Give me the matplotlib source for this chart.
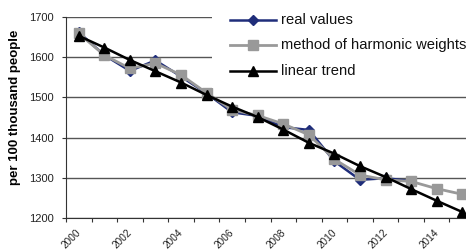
import matplotlib
matplotlib.use("Agg")
import matplotlib.pyplot as plt
import matplotlib.transforms as mtransforms
from matplotlib.lines import Line2D
from matplotlib.patches import Rectangle

years = list(range(2000, 2016))
real_values = [1662, 1605, 1566, 1592, 1552, 1510, 1463, 1454, 1426, 1419, 1341, 1295, 1299, 1292]
harmonic = [1659, 1605, 1572, 1585, 1556, 1511, 1469, 1455, 1434, 1407, 1346, 1307, 1295, 1291, 1273, 1259]
trend = [1653, 1624, 1593, 1565, 1537, 1506, 1477, 1451, 1420, 1387, 1360, 1329, 1302, 1272, 1243, 1215]
yticks = [1200, 1300, 1400, 1500, 1600, 1700]
xlabels = [str(y) if y % 2 == 0 else "" for y in years]
labels = ["real values", "method of harmonic weights", "linear trend"]

plt.rcParams['font.family'] = ['Liberation Sans', 'DejaVu Sans']

fig = plt.figure(figsize=(4.66, 2.5), dpi=100)
W, H = 466, 250
left, right, top, bottom = 66, 475, 17, 218
ax = fig.add_axes([left / W, 1 - bottom / H, (right - left) / W, (bottom - top) / H])

blue = "#1f2d7a"
gray = "#999999"
styles = [
    dict(color=blue, lw=1.8, marker="D", ms=5, markerfacecolor=blue, markeredgecolor=blue),
    dict(color=gray, lw=2.0, marker="s", ms=6.5, markerfacecolor=gray, markeredgecolor=gray),
    dict(color="black", lw=1.8, marker="^", ms=7, markerfacecolor="black", markeredgecolor="black"),
]
series = [real_values, harmonic, trend]
for i, (vals, st) in enumerate(zip(series, styles)):
    ax.plot(range(len(vals)), vals, zorder=3 + i, clip_on=False, **st)

ax.set_ylim(1200, 1700)
ax.set_xlim(-0.5, len(years) - 0.5)
ax.set_yticks(yticks)
ax.set_yticklabels([str(v) for v in yticks], fontsize=8, color="#222222")
ax.yaxis.grid(True, color="#555555", lw=1.0)
ax.set_axisbelow(True)

ax.set_xticks([i - 0.5 for i in range(len(years) + 1)])
ax.set_xticklabels([])
ax.set_xticks(range(len(years)), minor=True)
ax.set_xticklabels(xlabels, minor=True, rotation=45, fontsize=7.2, color="#222222",
                   ha="right", va="top", rotation_mode="anchor")
ax.tick_params(axis="x", which="minor", length=0, pad=7)
ax.tick_params(axis="x", which="major", length=3, color="#333333", direction="out")
ax.tick_params(axis="y", length=3, color="#333333", pad=6)
offset = mtransforms.ScaledTranslation(-3 / 100, 0, fig.dpi_scale_trans)
for lbl in ax.xaxis.get_minorticklabels():
    lbl.set_transform(lbl.get_transform() + offset)

for s in ["top", "right"]:
    ax.spines[s].set_visible(False)
ax.spines["left"].set_color("#333333")
ax.spines["bottom"].set_color("#333333")

fig.text(15 / W, 1 - 107 / H, "per 100 thousand people", rotation=90, fontsize=9.5,
         fontweight="bold", ha="center", va="center")

# legend box
fig.add_artist(Rectangle((212 / W, 1 - 88 / H), (W - 212) / W, 83 / H,
                         transform=fig.transFigure, facecolor="white", edgecolor="none", zorder=10))
ys = [20, 45, 71]
for lab, st, yy in zip(labels, styles, ys):
    yf = 1 - yy / H
    st2 = dict(st)
    mk = st2.pop("marker")
    ms = st2.pop("ms")
    mfc = st2.pop("markerfacecolor")
    mec = st2.pop("markeredgecolor")
    fig.add_artist(Line2D([230 / W, 276 / W], [yf, yf], transform=fig.transFigure, zorder=11, **st2))
    fig.add_artist(Line2D([253 / W], [yf], transform=fig.transFigure, marker=mk, ms=ms,
                          markerfacecolor=mfc, markeredgecolor=mec, linestyle="none", zorder=12))
    fig.text(281 / W, yf, lab, fontsize=10.6, ha="left", va="center", zorder=12, color="#111111")

fig.savefig("out.png", dpi=100)
